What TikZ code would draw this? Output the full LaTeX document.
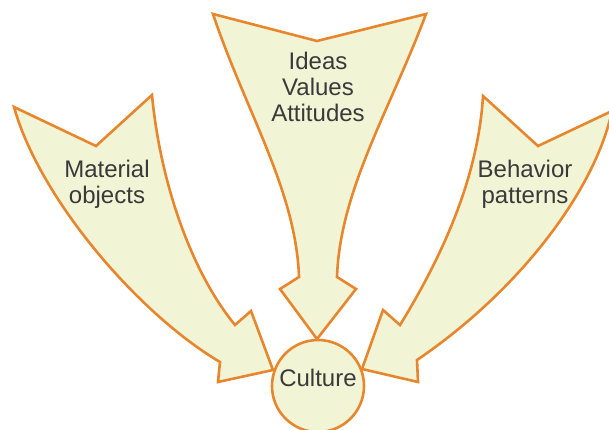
\documentclass[tikz,border=0pt]{standalone}
\usepackage{fontspec}
\setmainfont{Liberation Sans}
\definecolor{arrowfill}{HTML}{F1F4D5}
\definecolor{arrowline}{HTML}{E8862E}
\definecolor{txt}{HTML}{3A3A3A}
\tikzset{
  bigarrow/.style={fill=arrowfill, draw=arrowline, line width=2.6pt, line join=miter},
  lab/.style={text=txt, font=\fontsize{24}{26}\selectfont, align=center, inner sep=0pt},
  hub/.style={circle, fill=arrowfill, draw=arrowline, line width=2.6pt, minimum size=92pt, inner sep=0pt}
}
\begin{document}
\begin{tikzpicture}[x=1pt,y=-1pt]
\useasboundingbox (0,0) rectangle (609,430);
% left arrow
\draw[bigarrow] (14,107) -- (96,146) -- (152,95)
  .. controls (160,180) and (190,270) .. (235,325)
  -- (251,311) -- (273,370) -- (218,382) -- (220,362)
  .. controls (140,315) and (40,200) .. (14,107) -- cycle;
% centre arrow
\draw[bigarrow] (213,14) -- (317,41) -- (426,14)
  .. controls (390,110) and (340,190) .. (337,277)
  -- (356,289) -- (317,339) -- (280,289) -- (299,277)
  .. controls (296,190) and (245,110) .. (213,14) -- cycle;
% right arrow
\draw[bigarrow] (483,96) -- (538,146) -- (612,111)
  .. controls (595,190) and (520,290) .. (417,360)
  -- (418,382) -- (362,369) -- (383,310) -- (400,325)
  .. controls (440,260) and (478,180) .. (483,96) -- cycle;
\node[hub] (culture) at (318,386) {};
\node[lab] (culturetext) at (318,378) {Culture};
\node[lab] (material) at (107,184) {Material\\objects};
\node[lab] (ideas) at (318,87) {Ideas\\Values\\Attitudes};
\node[lab] (behavior) at (525,184) {Behavior\\patterns};
\end{tikzpicture}
\end{document}
